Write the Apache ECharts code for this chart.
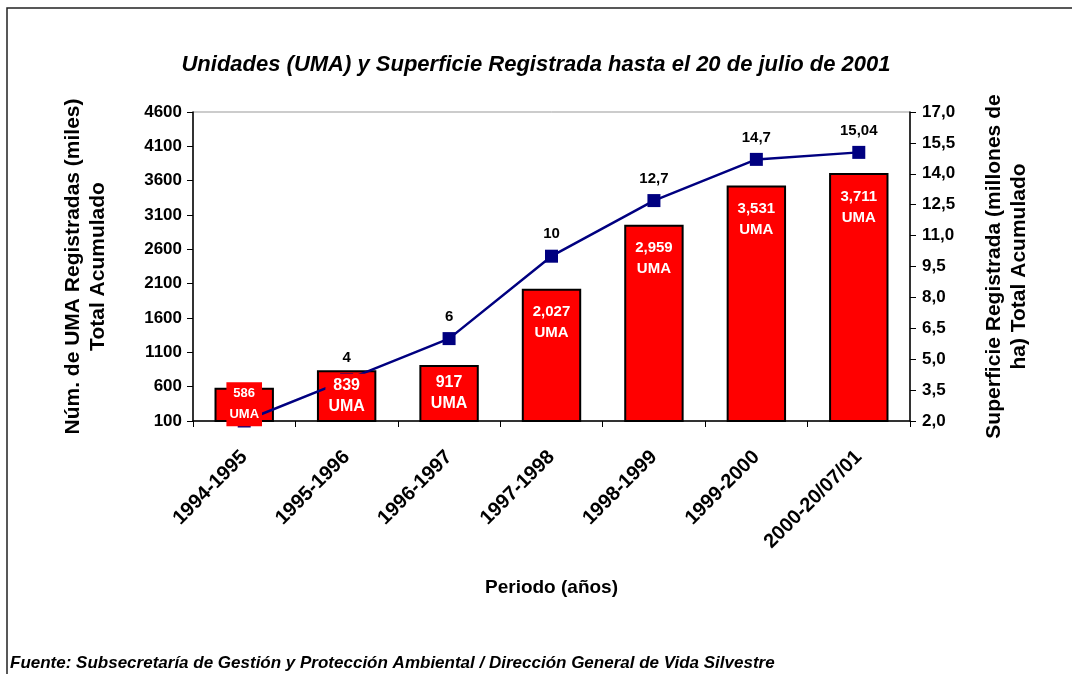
<!DOCTYPE html>
<html lang="es">
<head>
    <meta charset="UTF-8">
    <script src="https://cdn.jsdelivr.net/npm/echarts@6/dist/echarts.min.js"></script>
    <title>UMA</title>
    <style>
        html, body { margin: 0; padding: 0; background: #fff; }
        #chart { width: 1072px; height: 674px; }
    </style>
</head>
<body>
    <div id="chart"></div>
    <script>
        // periodos
        const periodos = ['1994-1995', '1995-1996', '1996-1997', '1997-1998', '1998-1999', '1999-2000', '2000-20/07/01']
        // miles de UMA registradas
        const uma = [586, 839, 917, 2027, 2959, 3531, 3711]
        // superficie en millones de ha
        const superficie = [2, 4, 6, 10, 12.7, 14.7, 15.04]
        const ticksIzq = [100, 4600, 500]
        const ticksDer = [2, 17, 1.5]

        const FONT = '"Liberation Sans", Arial, sans-serif'
        const chart = echarts.init(document.getElementById('chart'))

        const option = {
            animation: false,
            textStyle: { fontFamily: FONT },
            title: {
                text: 'Unidades (UMA) y Superficie Registrada hasta el 20 de julio de 2001',
                left: 'center',
                top: 49,
                textStyle: { fontSize: 22, fontStyle: 'italic', fontWeight: 'bold', color: '#000', fontFamily: FONT }
            },
            grid: {
                left: 193, right: 162, top: 112, bottom: 253,
                show: true, borderColor: '#999', borderWidth: 1, backgroundColor: 'transparent'
            },
            xAxis: {
                type: 'category',
                data: periodos,
                name: 'Periodo (años)',
                nameLocation: 'middle',
                nameGap: 157,
                nameTextStyle: { fontSize: 19, fontWeight: 'bold', color: '#000' },
                axisLine: { lineStyle: { color: '#000', width: 1.5 } },
                axisTick: { show: true, length: 6, lineStyle: { color: '#000' } },
                axisLabel: { rotate: 45, fontSize: 20, fontWeight: 'bold', color: '#000', margin: 33, interval: 0 }
            },
            yAxis: [{
                type: 'value',
                min: ticksIzq[0], max: ticksIzq[1], interval: ticksIzq[2],
                name: 'Núm. de UMA Registradas (miles)\nTotal Acumulado',
                nameLocation: 'middle',
                nameRotate: 90,
                nameGap: 82,
                nameTextStyle: { fontSize: 21, fontWeight: 'bold', color: '#000', lineHeight: 25 },
                axisLine: { show: true, lineStyle: { color: '#000', width: 1.5 } },
                axisTick: { show: true, length: 6, lineStyle: { color: '#000' } },
                axisLabel: { fontSize: 17, fontWeight: 'bold', color: '#000', margin: 11, formatter: v => String(v) },
                splitLine: { show: false }
            }, {
                type: 'value',
                position: 'right',
                min: ticksDer[0], max: ticksDer[1], interval: ticksDer[2],
                name: 'Superficie Registrada (millones de\nha) Total Acumulado',
                nameLocation: 'middle',
                nameRotate: 90,
                nameGap: 72,
                nameTextStyle: { fontSize: 21, fontWeight: 'bold', color: '#000', lineHeight: 25 },
                axisLine: { show: true, lineStyle: { color: '#000', width: 1.5 } },
                axisTick: { show: true, length: 6, lineStyle: { color: '#000' } },
                axisLabel: {
                    fontSize: 17, fontWeight: 'bold', color: '#000', margin: 12,
                    formatter: v => v.toFixed(1).replace('.', ',')
                },
                splitLine: { show: false }
            }],
            series: [{
                // barras
                name: 'UMA',
                type: 'bar',
                data: uma,
                barWidth: '58%',
                z: 2,
                itemStyle: { color: '#ff0000', borderColor: '#000', borderWidth: 2 }
            }, {
                name: 'superficie',
                type: 'line',
                yAxisIndex: 1,
                data: superficie,
                z: 3,
                symbol: 'rect',
                symbolSize: 13,
                lineStyle: { color: '#000080', width: 2.5 },
                itemStyle: { color: '#000080' },
                label: {
                    show: true, position: 'top', distance: 8,
                    fontSize: 15, fontWeight: 'bold', color: '#000',
                    formatter: p => String(p.value).replace('.', ',')
                }
            }, {
                // etiquetas de las barras, encima de la linea
                name: 'etiquetas',
                type: 'bar',
                data: uma.map((v, i) => ({
                    value: v,
                    label: i < 3
                        ? { position: 'inside', fontSize: i === 0 ? 13 : 16 }
                        : { position: 'insideTop', distance: 12 }
                })),
                barWidth: '58%',
                barGap: '-100%',
                z: 5,
                silent: true,
                itemStyle: { color: 'transparent' },
                label: {
                    show: true,
                    color: '#fff',
                    fontSize: 15,
                    fontWeight: 'bold',
                    lineHeight: 21,
                    backgroundColor: '#ff0000',
                    padding: [1, 3],
                    formatter: p => p.value.toLocaleString('en-US') + '\nUMA'
                }
            }],
            graphic: [{
                type: 'rect',
                shape: { x: 7, y: 8, width: 1100, height: 700 },
                style: { fill: 'none', stroke: '#222', lineWidth: 1.5 },
                silent: true
            }, {
                type: 'text',
                left: 10,
                top: 655,
                style: {
                    text: 'Fuente: Subsecretaría de Gestión y Protección Ambiental / Dirección General de Vida Silvestre',
                    font: 'italic bold 17px ' + FONT,
                    fill: '#000'
                }
            }]
        }
        chart.setOption(option)
    </script>
</body>
</html>
